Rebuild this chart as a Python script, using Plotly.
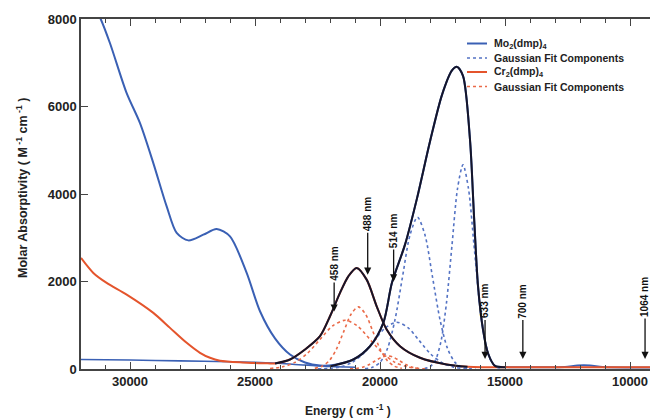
import plotly.graph_objects as go

# ---------------- data ----------------
# Mo2(dmp)4 measured spectrum
mo_E = [31700, 31172, 30800, 30133, 29600, 29067, 28533, 28133, 27667, 27067, 26533, 26000,
        25333, 24800, 24200, 23600, 23000, 22400, 21800, 21067, 20400, 19867, 19520, 19000,
        18520, 18000, 17520, 17120, 16920, 16680, 16400, 16240, 16080, 15880, 15680, 15400,
        15000, 14000, 12600, 12100, 11600, 11100, 10000, 9200]
mo_v = [8600, 8000, 7446, 6305, 5620, 4707, 3717, 3109, 2940, 3070, 3200, 3031,
        2196, 1320, 700, 330, 150, 80, 100, 217, 520, 1055, 1975, 2842,
        3900, 5200, 6267, 6825, 6906, 6700, 5240, 3500, 1900, 900, 360, 70,
        45, 40, 45, 80, 80, 45, 35, 35]

# second (low) blue trace near the baseline
mo_low_E = [31960, 30000, 28000, 26000, 24800, 23500, 22000, 21000]
mo_low_v = [217, 205, 185, 165, 148, 110, 57, 40]

# Mo2(dmp)4 total fit (black)
mo_fit_E = [22000, 21067, 20400, 19867, 19520, 19000, 18520, 18000, 17520, 17120, 16920,
            16680, 16400, 16240, 16080, 15880, 15680, 15400, 15000]
mo_fit_v = [60, 217, 520, 1055, 1975, 2842, 3900, 5200, 6267, 6825, 6906,
            6700, 5240, 3500, 1900, 900, 360, 70, 40]

# Mo2(dmp)4 Gaussian components
moA_E = [18220, 18000, 17780, 17560, 17340, 17120, 16900, 16680, 16460, 16240, 16020, 15800, 15580, 15360, 15140]
moA_v = [10, 52, 205, 632, 1516, 2831, 4120, 4668, 4120, 2831, 1516, 632, 205, 52, 10]
moB_E = [20600, 20300, 20000, 19700, 19400, 19100, 18800, 18500, 18200, 17900, 17600, 17300, 17000, 16700, 16400]
moB_v = [8, 39, 152, 470, 1127, 2105, 3062, 3470, 3062, 2105, 1127, 470, 152, 39, 8]
moC_E = [22480, 22030, 21580, 21130, 20680, 20230, 19780, 19330, 18880, 18430, 17980, 17530, 17080, 16630, 16180]
moC_v = [2, 12, 47, 145, 347, 649, 944, 1070, 944, 649, 347, 145, 47, 12, 2]

# Cr2(dmp)4 measured spectrum
cr_E = [31960, 31467, 30933, 30133, 29067, 28400, 27733, 27200, 26800, 26400, 25500, 24500,
        24200, 23600, 23000, 22400, 22000, 21600, 21267, 20933, 20533, 20133, 19733, 19200,
        18400, 17333, 16500, 13000, 10500, 9200]
cr_v = [2539, 2196, 1968, 1701, 1283, 940, 598, 370, 256, 190, 150, 130,
        126, 217, 445, 749, 1205, 1740, 2119, 2310, 2043, 1434, 902, 520,
        256, 103, 50, 40, 40, 40]

# Cr2(dmp)4 total fit (black)
cr_fit_E = [24200, 23600, 23000, 22400, 22000, 21600, 21267, 20933, 20533, 20133, 19733, 19200, 18400, 17333, 16500]
cr_fit_v = [126, 217, 445, 749, 1205, 1740, 2119, 2310, 2043, 1434, 902, 520, 256, 103, 50]

# Cr2(dmp)4 Gaussian components
crA_E = [22607, 22317, 22027, 21737, 21447, 21157, 20867, 20577, 20287, 19997, 19707, 19417, 19127]
crA_v = [16, 62, 192, 461, 861, 1253, 1420, 1253, 861, 461, 192, 62, 16]
crB_E = [24400, 23900, 23400, 22900, 22400, 21900, 21400, 20900, 20400, 19900, 19400, 18900, 18400]
crB_v = [12, 49, 151, 362, 676, 983, 1114, 983, 676, 362, 151, 49, 12]
crC_E = [21200, 20950, 20700, 20450, 20200, 19950, 19700, 19450, 19200, 18950, 18700, 18450, 18200]
crC_v = [3, 13, 41, 97, 182, 265, 300, 265, 182, 97, 41, 13, 3]

# laser-line markers
laser_labels = ["458 nm", "488 nm", "514 nm", "633 nm", "700 nm", "1064 nm"]
laser_E = [21834, 20492, 19455, 15798, 14286, 9398]
laser_tip = [1313, 2157, 2000, 230, 230, 230]
laser_ay = [-48, -61, -51, -58, -58, -62]

# legend entries
legend_labels = ["Mo<sub>2</sub>(dmp)<sub>4</sub>", "Gaussian Fit Components",
                 "Cr<sub>2</sub>(dmp)<sub>4</sub>", "Gaussian Fit Components"]

# ---------------- styling ----------------
BLUE = "#3a60b4"
BLUE_DOT = "#5473c4"
RED = "#e4542c"
RED_DOT = "#ea6a48"
BLACK = "#15152a"

fig = go.Figure()

def add(x, y, color, dash="solid", width=2):
    fig.add_trace(go.Scatter(
        x=x, y=y, mode="lines",
        line=dict(color=color, width=width, dash=dash, shape="spline", smoothing=0.8),
        showlegend=False, hoverinfo="skip"))

add(mo_E, mo_v, BLUE)
add(mo_low_E, mo_low_v, BLUE, width=1.6)
add(cr_E, cr_v, RED)
add(moA_E, moA_v, BLUE_DOT, dash="dot", width=1.6)
add(moB_E, moB_v, BLUE_DOT, dash="dot", width=1.6)
add(moC_E, moC_v, BLUE_DOT, dash="dot", width=1.6)
add(crA_E, crA_v, RED_DOT, dash="dot", width=1.6)
add(crB_E, crB_v, RED_DOT, dash="dot", width=1.6)
add(crC_E, crC_v, RED_DOT, dash="dot", width=1.6)
add(mo_fit_E, mo_fit_v, BLACK, width=2)
add(cr_fit_E, cr_fit_v, BLACK, width=2)

for lab, e, tip, ay in zip(laser_labels, laser_E, laser_tip, laser_ay):
    fig.add_annotation(x=e, y=tip, text="<b>" + lab + "</b>", textangle=-90, showarrow=True,
                       arrowhead=2, arrowsize=1.1, arrowwidth=1.3, arrowcolor="#111",
                       ax=0, ay=ay, font=dict(size=10, color="#111", family="Arial"),
                       borderpad=1)

# hand-placed legend (paper coordinates)
PW, PH, L, T = 569.0, 350.0, 81.0, 19.0
def px(xp):
    return (xp - L) / PW
def py(yp):
    return 1 - (yp - T) / PH

leg_rows = [43.5, 58.0, 72.0, 86.5]
leg_colors = [BLUE, BLUE_DOT, RED, RED_DOT]
leg_dash = ["solid", "dot", "solid", "dot"]
for lab, yy, c, d in zip(legend_labels, leg_rows, leg_colors, leg_dash):
    fig.add_shape(type="line", xref="paper", yref="paper", x0=px(467), x1=px(487),
                  y0=py(yy), y1=py(yy), line=dict(color=c, width=2 if d == "solid" else 1.6, dash=d))
    fig.add_annotation(xref="paper", yref="paper", x=px(492), y=py(yy), xanchor="left", yanchor="middle",
                       text="<b>" + lab + "</b>", showarrow=False,
                       font=dict(size=10.5, family="Arial", color="#222"))

# axis titles
fig.add_annotation(xref="paper", yref="paper", x=px(348), y=py(410), xanchor="center", yanchor="middle",
                   text="<b>Energy ( cm<sup> -1</sup> )</b>", showarrow=False,
                   font=dict(size=12, family="Arial", color="#222"))
fig.add_annotation(xref="paper", yref="paper", x=px(22), y=py(188), xanchor="center", yanchor="middle",
                   text="<b>Molar Absorptivity ( M<sup> -1</sup> cm<sup> -1</sup> )</b>", showarrow=False,
                   textangle=-90, font=dict(size=12.5, family="Arial", color="#222"))

axis_font = dict(family="Arial", size=13, color="#222")
fig.update_layout(
    width=650, height=419,
    margin=dict(l=81, r=0, t=19, b=50),
    paper_bgcolor="white", plot_bgcolor="white",
    font=dict(family="Arial", color="#222"),
    showlegend=False,
    xaxis=dict(range=[31960, 9200], showgrid=False, zeroline=False,
               showline=True, linecolor="#444", linewidth=1.5, mirror="ticks",
               ticks="inside", ticklen=7, tickwidth=1.2, tickcolor="#444",
               tickvals=[30000, 25000, 20000, 15000, 10000],
               ticktext=["<b>30000</b>", "<b>25000</b>", "<b>20000</b>", "<b>15000</b>", "<b>10000</b>"],
               tickfont=axis_font,
               minor=dict(dtick=1000, tick0=0, ticks="inside", ticklen=4, tickcolor="#444", tickwidth=1)),
    yaxis=dict(range=[0, 8000], showgrid=False, zeroline=False,
               showline=True, linecolor="#444", linewidth=1.5,
               ticks="inside", ticklen=7, tickwidth=1.2, tickcolor="#444",
               tickvals=[0, 2000, 4000, 6000, 8000],
               ticktext=["<b>0</b>", "<b>2000</b>", "<b>4000</b>", "<b>6000</b>", "<b>8000</b>"],
               tickfont=axis_font),
)

fig.write_html("out.html")
